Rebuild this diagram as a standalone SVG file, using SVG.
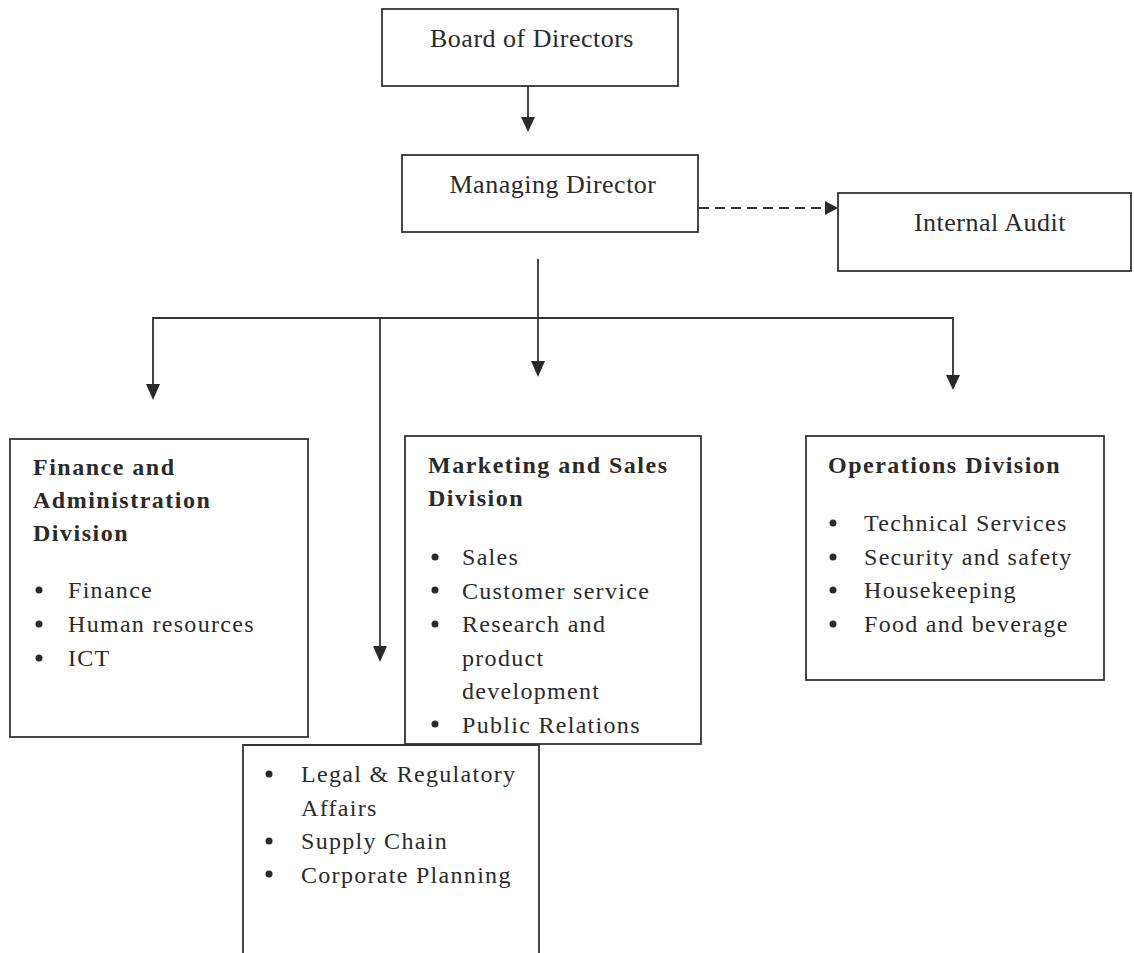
<svg xmlns="http://www.w3.org/2000/svg" width="1134" height="953" viewBox="0 0 1134 953">
<style>
.box{fill:#fff;stroke:#333;stroke-width:1.8}
.t{font-family:"Liberation Serif","Times New Roman",serif;font-size:26px;fill:#2a2a2a;letter-spacing:0.5px}
.h{font-family:"Liberation Serif","Times New Roman",serif;font-size:24px;font-weight:bold;fill:#2a2a2a;letter-spacing:1.5px}
.li{font-family:"Liberation Serif","Times New Roman",serif;font-size:24px;fill:#2a2a2a;letter-spacing:1.3px}
.b{fill:#2a2a2a}
.ln{fill:none;stroke:#333;stroke-width:1.8}
.dash{fill:none;stroke:#333;stroke-width:1.8;stroke-dasharray:10 6}
</style>
<rect width="1134" height="953" fill="#fff"/>

<g id="connectors">
<line class="ln" x1="528" y1="86" x2="528" y2="117"/>
<path d="M521,117 L535,117 L528,132 Z" class="b"/>
<line class="dash" x1="699" y1="208" x2="826" y2="208"/>
<path d="M825,201 L825,215 L838,208 Z" class="b"/>
<line class="ln" x1="538" y1="259" x2="538" y2="362"/>
<path d="M531,361 L545,361 L538,377 Z" class="b"/>
<polyline class="ln" points="153,385 153,318 953,318 953,376"/>
<path d="M146,384 L160,384 L153,400 Z" class="b"/>
<path d="M946,375 L960,375 L953,390 Z" class="b"/>
<line class="ln" x1="380" y1="318" x2="380" y2="647"/>
<path d="M373,646 L387,646 L380,662 Z" class="b"/>
</g>

<g id="board">
<rect class="box" x="382" y="9" width="296" height="77"/>
<text class="t" x="532" y="47" text-anchor="middle">Board of Directors</text>
</g>

<g id="managing">
<rect class="box" x="402" y="155" width="296" height="77"/>
<text class="t" x="553" y="193" text-anchor="middle">Managing Director</text>
</g>

<g id="audit">
<rect class="box" x="838" y="193" width="293" height="78"/>
<text class="t" x="990" y="231" text-anchor="middle">Internal Audit</text>
</g>

<g id="finance">
<rect class="box" x="10" y="439" width="298" height="298"/>
<text class="h" x="33" y="475">Finance and</text>
<text class="h" x="33" y="508">Administration</text>
<text class="h" x="33" y="541">Division</text>
<circle class="b" cx="39" cy="590" r="3.5"/><text class="li" x="68" y="598">Finance</text>
<circle class="b" cx="39" cy="624" r="3.5"/><text class="li" x="68" y="632">Human resources</text>
<circle class="b" cx="39" cy="658" r="3.5"/><text class="li" x="68" y="666">ICT</text>
</g>

<g id="marketing">
<rect class="box" x="405" y="436" width="296" height="308"/>
<text class="h" x="428" y="473">Marketing and Sales</text>
<text class="h" x="428" y="506">Division</text>
<circle class="b" cx="435" cy="557" r="3.5"/><text class="li" x="462" y="565">Sales</text>
<circle class="b" cx="435" cy="590" r="3.5"/><text class="li" x="462" y="598.5">Customer service</text>
<circle class="b" cx="435" cy="624" r="3.5"/><text class="li" x="462" y="632">Research and</text>
<text class="li" x="462" y="665.5">product</text>
<text class="li" x="462" y="699">development</text>
<circle class="b" cx="435" cy="724" r="3.5"/><text class="li" x="462" y="732.5">Public Relations</text>
</g>

<g id="operations">
<rect class="box" x="806" y="436" width="298" height="244"/>
<text class="h" x="828" y="473">Operations Division</text>
<circle class="b" cx="833" cy="523" r="3.5"/><text class="li" x="864" y="531">Technical Services</text>
<circle class="b" cx="833" cy="557" r="3.5"/><text class="li" x="864" y="565">Security and safety</text>
<circle class="b" cx="833" cy="590" r="3.5"/><text class="li" x="864" y="598">Housekeeping</text>
<circle class="b" cx="833" cy="624" r="3.5"/><text class="li" x="864" y="632">Food and beverage</text>
</g>

<g id="legal">
<path class="box" d="M243,960 L243,745 L539,745 L539,960"/>
<circle class="b" cx="269" cy="774" r="3.5"/><text class="li" x="301" y="782">Legal &amp; Regulatory</text>
<text class="li" x="301" y="815.5">Affairs</text>
<circle class="b" cx="269" cy="841" r="3.5"/><text class="li" x="301" y="849">Supply Chain</text>
<circle class="b" cx="269" cy="874" r="3.5"/><text class="li" x="301" y="882.5">Corporate Planning</text>
</g>
</svg>
